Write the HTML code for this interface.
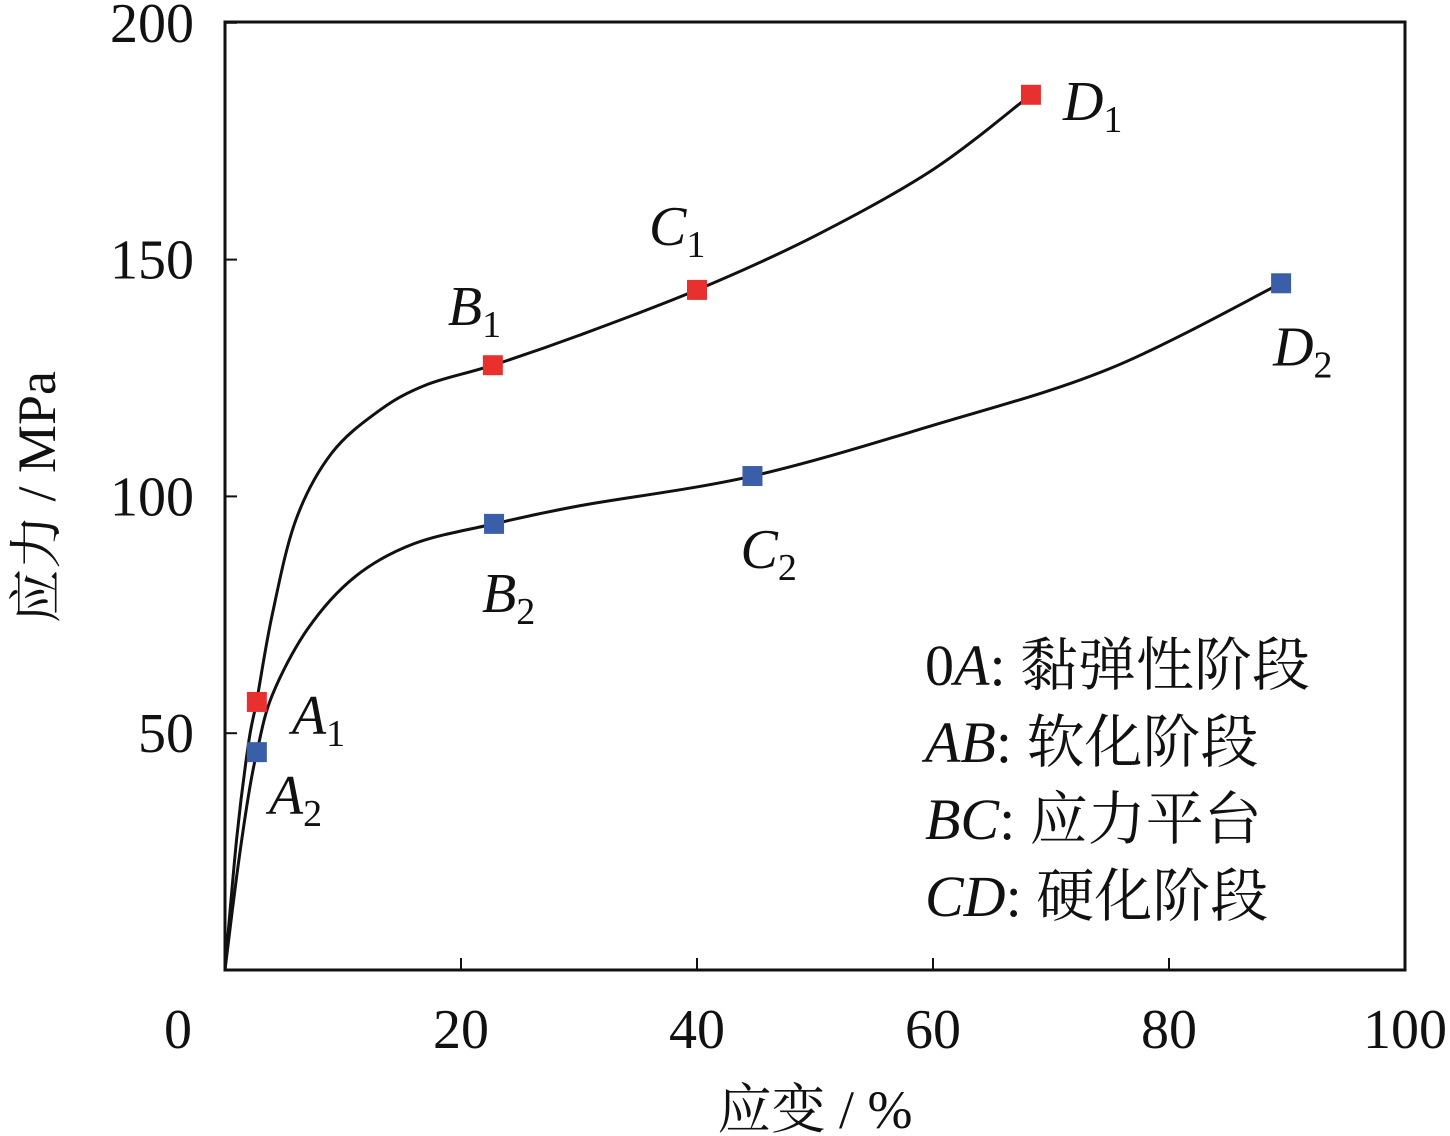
<!DOCTYPE html>
<html><head><meta charset="utf-8"><style>
body{margin:0;background:#fff}
svg{display:block}
text{font-family:"Liberation Serif","Noto Serif CJK SC",serif;fill:#111}
</style></head><body>
<svg id="chart" width="1450" height="1136">
<rect x="225" y="22" width="1180" height="948" fill="none" stroke="#111" stroke-width="3"/>
<g id="axes"></g>
<g id="series"></g>
<text x="55" y="497" font-size="54" text-anchor="middle" transform="rotate(-90 55 497)">应力 / MPa</text>
<text x="815" y="1128" font-size="54" text-anchor="middle">应变 / %</text>
<g font-size="58">
<text x="925" y="685">0<tspan font-style="italic">A</tspan>: 黏弹性阶段</text>
<text x="925" y="762"><tspan font-style="italic">AB</tspan>: 软化阶段</text>
<text x="925" y="839"><tspan font-style="italic">BC</tspan>: 应力平台</text>
<text x="925" y="916"><tspan font-style="italic">CD</tspan>: 硬化阶段</text>
</g>
</svg>
<script>
const xTicks=[0,20,40,60,80,100];
const yTicks=[50,100,150,200];
const curve1X=[0,1,2,2.7,4,6,9,13,17,22.7,30,40,50,60,68.3];
const curve1Y=[0,28,48,57,75,95,109,118,123.5,127.7,134,143.6,155,169,184.8];
const curve2X=[0,1,2,2.7,4,7,11,16,22.8,30,44.7,60,75,89.5];
const curve2Y=[0,20,37,46,58,72,83,90,94.2,98,104.3,115,127,145];
const pointNames=["A","B","C","D"];
const s1X=[2.7,22.7,40,68.3];
const s1Y=[56.6,127.7,143.6,184.8];
const s2X=[2.7,22.8,44.7,89.5];
const s2Y=[46,94.2,104.3,145];
const xs=v=>225+v*11.8;
const ys=v=>970-v*4.736;
const NS="http://www.w3.org/2000/svg";
const axes=document.getElementById('axes');
const ser=document.getElementById('series');
function mk(t,a,p){const e=document.createElementNS(NS,t);for(const k in a)e.setAttribute(k,a[k]);p.appendChild(e);return e;}
xTicks.forEach(v=>{
  const l=mk('line',{x1:xs(v),x2:xs(v),y1:970,y2:958,stroke:'#111','stroke-width':2},axes);
  
  
  const t=mk('text',{x:v===0?178:xs(v),y:1048,'font-size':56,'text-anchor':'middle'},axes);
  t.textContent=v;
  
  
});
yTicks.forEach(v=>{
  const l=mk('line',{x1:225,x2:237,y1:ys(v),y2:ys(v),stroke:'#111','stroke-width':2},axes);
  
  
  const t=mk('text',{x:194,y:ys(v)+19,'font-size':56,'text-anchor':'end'},axes);
  t.textContent=v;
  
  
});
function smooth(X,Y){
  const P=X.map((x,i)=>[xs(x),ys(Y[i])]);
  let d=`M${P[0][0]},${P[0][1]}`;
  for(let i=0;i<P.length-1;i++){
    const p0=P[i-1]||P[i],p1=P[i],p2=P[i+1],p3=P[i+2]||p2;
    const c1=[p1[0]+(p2[0]-p0[0])/6,p1[1]+(p2[1]-p0[1])/6];
    const c2=[p2[0]-(p3[0]-p1[0])/6,p2[1]-(p3[1]-p1[1])/6];
    d+=` C${c1[0]},${c1[1]} ${c2[0]},${c2[1]} ${p2[0]},${p2[1]}`;
  }
  return d;
}
const c1=mk('path',{d:smooth(curve1X,curve1Y),fill:'none',stroke:'#111','stroke-width':3},ser);


const c2=mk('path',{d:smooth(curve2X,curve2Y),fill:'none',stroke:'#111','stroke-width':3},ser);


const lab1=[[35,32],[-45,-40],[-48,-45],[32,25]];
const lab2=[[12,62],[-12,88],[-12,92],[-8,82]];
function pts(X,Y,col,sub,off){
  X.forEach((x,i)=>{
    const r=mk('rect',{x:xs(x)-10,y:ys(Y[i])-10,width:20,height:20,fill:col},ser);
    
    
    const t=mk('text',{x:xs(x)+off[i][0],y:ys(Y[i])+off[i][1],'font-size':56,'font-style':'italic'},ser);
    t.innerHTML=pointNames[i]+`<tspan font-style="normal" font-size="38" dy="12">${sub}</tspan>`;
    
    
  });
}
pts(s1X,s1Y,'#e8312f','1',lab1);
pts(s2X,s2Y,'#3a5fa8','2',lab2);
</script>
</body></html>
